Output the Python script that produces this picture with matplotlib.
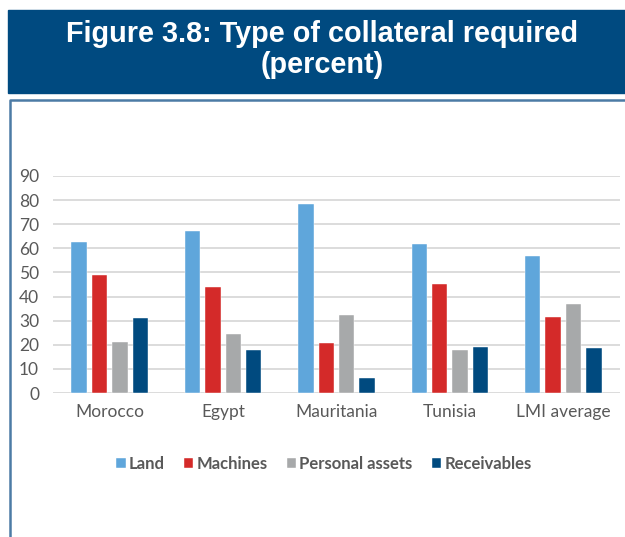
import matplotlib.pyplot as plt
import numpy as np
from matplotlib.patches import Rectangle
from matplotlib.lines import Line2D

# Data
countries = ['Morocco', 'Egypt', 'Mauritania', 'Tunisia', 'LMI average']
land = [62.8, 67.2, 78.3, 62.0, 56.8]
machines = [49.0, 43.9, 20.6, 45.2, 31.7]
personal_assets = [21.0, 24.5, 32.2, 17.8, 36.8]
receivables = [31.0, 17.8, 6.2, 19.2, 18.5]

series = [land, machines, personal_assets, receivables]
names = ['Land', 'Machines', 'Personal assets', 'Receivables']
colors = ['#5FA6DB', '#D42A29', '#A7A9AA', '#004A7F']

fig = plt.figure(figsize=(6.25, 5.37), dpi=100)

# title banner
fig.patches.append(Rectangle((8 / 625, 1 - 93 / 537), 617 / 625, 83 / 537,
                             transform=fig.transFigure, color='#004A80', zorder=0))
fig.text(0.515, 1 - 34 / 537, 'Figure 3.8: Type of collateral required', ha='center', va='center',
         color='white', fontsize=20.8, fontweight='bold', family='Liberation Sans')
fig.text(0.515, 1 - 65 / 537, '(percent)', ha='center', va='center',
         color='white', fontsize=20.8, fontweight='bold', family='Liberation Sans')

# box outline
fig.lines.append(Line2D([9.5 / 625, 9.5 / 625, 1], [0, 1 - 100 / 537, 1 - 100 / 537],
                        transform=fig.transFigure, color='#4C7BA5', lw=1.8))

ax = fig.add_axes([53 / 625, 1 - 393 / 537, 567 / 625, 217 / 537])
x = np.arange(len(countries))
step = 0.18
w = 0.135
for i, (vals, name, c) in enumerate(zip(series, names, colors)):
    ax.bar(x + (i - 1.5) * step, vals, w, color=c, label=name, zorder=3,
           edgecolor='white', linewidth=0.3)

ax.set_xlim(-0.5, 4.5)
ax.set_ylim(0, 90)
ax.set_yticks(range(0, 91, 10))
ax.set_xticks(x)
ax.set_xticklabels(countries)
ax.grid(axis='y', color='#D9D9D9', lw=1.3, zorder=0)
ax.set_axisbelow(True)
for s in ax.spines.values():
    s.set_visible(False)
ax.tick_params(length=0, labelsize=12.5, labelcolor='#595959', pad=8)
ax.tick_params(axis='y', pad=10)
for lbl in ax.get_xticklabels() + ax.get_yticklabels():
    lbl.set_family('Lato')

leg = ax.legend(loc='center', bbox_to_anchor=(0.478, -0.325), ncol=4, frameon=False,
                handlelength=0.55, handleheight=0.55, handletextpad=0.2, columnspacing=1.15,
                prop={'family': 'Lato', 'weight': 'bold', 'size': 12})
for t in leg.get_texts():
    t.set_color('#595959')

plt.savefig('out.png', dpi=100)
